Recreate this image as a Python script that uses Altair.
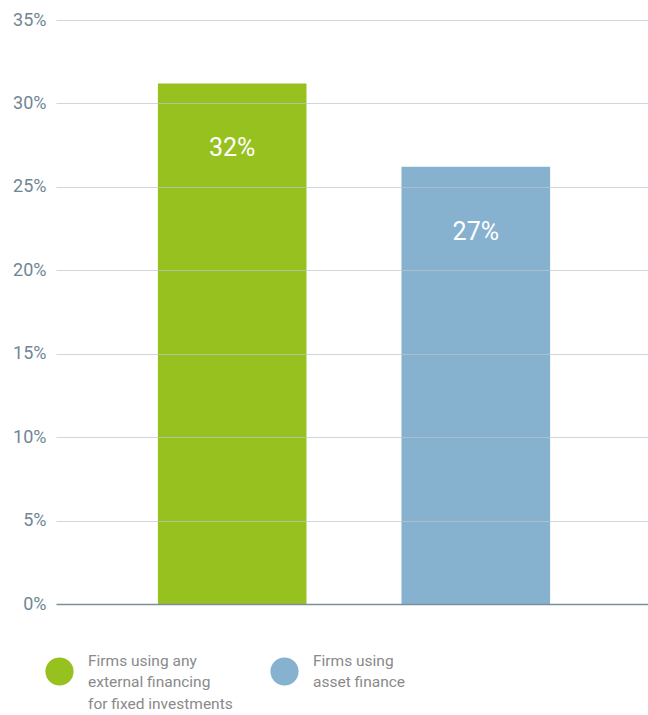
import altair as alt
import pandas as pd

categories = ["Firms using any|external financing|for fixed investments", "Firms using|asset finance| "]
values = [31.2, 26.2]
labels = ["32%", "27%"]
colors = ["#97C11F", "#87B2CF"]

df = pd.DataFrame({"cat": categories, "value": values, "label": labels})

x = alt.X("cat:N", sort=categories, title=None,
          scale=alt.Scale(paddingInner=0.39, paddingOuter=0.41, align=0.51),
          axis=alt.Axis(labels=False, ticks=False, domain=False, grid=False))

bars = alt.Chart(df).mark_bar().encode(
    x=x,
    y=alt.Y("value:Q", title=None,
            scale=alt.Scale(domain=[0, 35], nice=False),
            axis=alt.Axis(values=[0, 5, 10, 15, 20, 25, 30, 35], labelExpr="datum.value + '%'",
                          domain=False, ticks=False, grid=True,
                          gridColor={"condition": {"test": "datum.value === 0", "value": "#7b8e9b"},
                                     "value": "#b9c6d0"},
                          gridOpacity={"condition": {"test": "datum.value === 0", "value": 1},
                                       "value": 0.7},
                          gridWidth={"condition": {"test": "datum.value === 0", "value": 1.6},
                                     "value": 1},
                          labelColor="#6f8695", labelFontSize=18,
                          labelFont="Roboto", labelPadding=10, zindex=1)),
    color=alt.Color("cat:N", sort=categories, title=None,
                    scale=alt.Scale(domain=categories, range=colors),
                    legend=alt.Legend(orient="none", legendX=-11, legendY=637, direction="horizontal",
                                      columns=2, symbolType="circle", symbolSize=790,
                                      symbolStrokeWidth=0, labelOffset=14,
                                      labelExpr="split(datum.label, '|')",
                                      labelFont="Roboto", labelFontSize=15.5, labelColor="#8a8a8a",
                                      labelLimit=300, columnPadding=37, labelBaseline="line-bottom"))
)

text = alt.Chart(df).mark_text(color="white", fontSize=25, font="Roboto", baseline="middle", dy=65).encode(
    x=alt.X("cat:N", sort=categories),
    y="value:Q",
    text="label:N",
)

chart = alt.layer(bars, text).properties(
    width=592, height=584,
    padding={"left": 56, "top": 20, "right": 0, "bottom": 111},
    autosize=alt.AutoSizeParams(type="none"),
).configure(
    view=alt.ViewConfig(stroke=None),
    style={"guide-label": {"lineHeight": 21.5}},
)

chart.save("out.html", embed_options={"renderer": "svg", "actions": False})
